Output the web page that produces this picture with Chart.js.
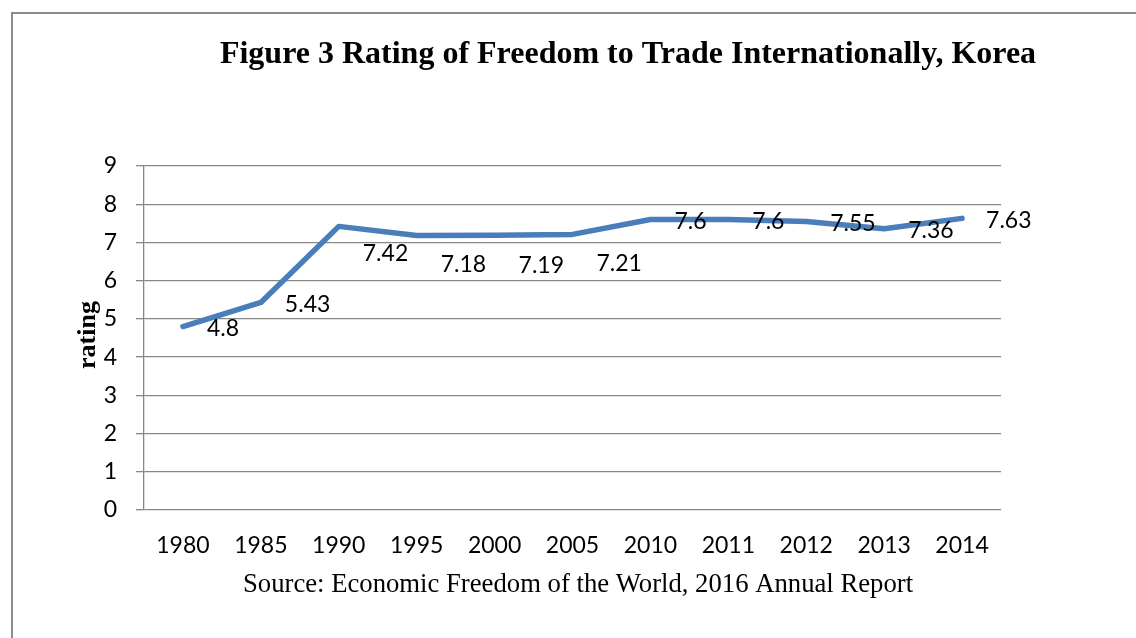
<!DOCTYPE html>
<html>
<head>
<meta charset="utf-8">
<script src="https://cdn.jsdelivr.net/npm/chart.js@4"></script>
<style>
  html, body { margin: 0; padding: 0; background: #fff; }
  #wrap { position: relative; width: 1136px; height: 638px; }
</style>
</head>
<body>
<div id="wrap"><canvas id="trade-chart" width="1136" height="638"></canvas></div>
<script>
// Figure 3: rating of freedom to trade internationally, Korea
const years = ['1980', '1985', '1990', '1995', '2000', '2005', '2010', '2011', '2012', '2013', '2014'];
const ratings = [4.8, 5.43, 7.42, 7.18, 7.19, 7.21, 7.6, 7.6, 7.55, 7.36, 7.63];
const ratingLabels = ['4.8', '5.43', '7.42', '7.18', '7.19', '7.21', '7.6', '7.6', '7.55', '7.36', '7.63'];
const yTicks = [0, 1, 2, 3, 4, 5, 6, 7, 8, 9];

const titleText = 'Figure 3 Rating of Freedom to Trade Internationally, Korea';
const sourceText = 'Source: Economic Freedom of the World, 2016 Annual Report';

const tickFont = { family: 'Lato, "Open Sans", sans-serif', size: 23 };
const gridColor = '#878787';

// labels that were pushed under the line in the original
const labelDrop = [0, 0, 25, 27, 28, 27, 0, 0, 0, 0, 0];

const decorPlugin = {
  id: 'decor',
  beforeDraw(chart) {
    const c = chart.ctx;
    c.save();
    c.fillStyle = '#fff';
    c.fillRect(0, 0, chart.width, chart.height);
    // frame (only left and top edges show)
    c.strokeStyle = '#8c8c8c';
    c.lineWidth = 2;
    c.beginPath();
    c.moveTo(12, chart.height);
    c.lineTo(12, 13);
    c.lineTo(chart.width, 13);
    c.stroke();
    c.restore();
  },
  afterDraw(chart) {
    const c = chart.ctx;
    c.save();
    c.fillStyle = '#000';
    c.textAlign = 'center';
    c.textBaseline = 'alphabetic';
    c.font = 'bold 32px "Liberation Serif", "Times New Roman", serif';
    c.fillText(titleText, 628, 63);

    c.font = '26.7px "Liberation Serif", "Times New Roman", serif';
    c.fillText(sourceText, 578, 592);

    c.save();
    c.translate(95, 335);
    c.rotate(-Math.PI / 2);
    c.font = 'bold 26px "Liberation Serif", "Times New Roman", serif';
    c.fillText('rating', 0, 0);
    c.restore();

    // point labels, right of each point
    const meta = chart.getDatasetMeta(0);
    c.font = '23px Lato, "Open Sans", sans-serif';
    c.textAlign = 'left';
    c.textBaseline = 'middle';
    meta.data.forEach((pt, i) => {
      c.fillText(ratingLabels[i], pt.x + 24, pt.y + 2 + labelDrop[i]);
    });
    c.restore();
  }
};

new Chart(document.getElementById('trade-chart').getContext('2d'), {
  type: 'line',
  data: {
    labels: years,
    datasets: [{
      label: 'rating',
      data: ratings,
      borderColor: '#4a7ebb',
      borderWidth: 5.5,
      pointRadius: 0,
      fill: false,
      tension: 0,
      borderCapStyle: 'round',
      borderJoinStyle: 'round'
    }]
  },
  options: {
    responsive: false,
    animation: false,
    layout: { padding: { left: 0, top: 166, right: 135, bottom: 68 } },
    plugins: {
      legend: { display: false },
      tooltip: { enabled: false },
      title: { display: false }
    },
    scales: {
      x: {
        offset: true,
        grid: { display: false, drawTicks: false },
        border: { display: false },
        ticks: { color: '#000', font: tickFont, padding: 22, maxRotation: 0, autoSkip: false },
        afterFit(s) { s.height = 60; }
      },
      y: {
        min: 0,
        max: 9,
        afterBuildTicks(s) { s.ticks = yTicks.map(v => ({ value: v })); },
        grid: { color: gridColor, lineWidth: 1.3, tickLength: 8 },
        border: { display: true, color: gridColor, width: 1.3 },
        ticks: { color: '#000', font: tickFont, padding: 19 },
        afterFit(s) { s.width = 144; }
      }
    }
  },
  plugins: [decorPlugin]
});
</script>
</body>
</html>
